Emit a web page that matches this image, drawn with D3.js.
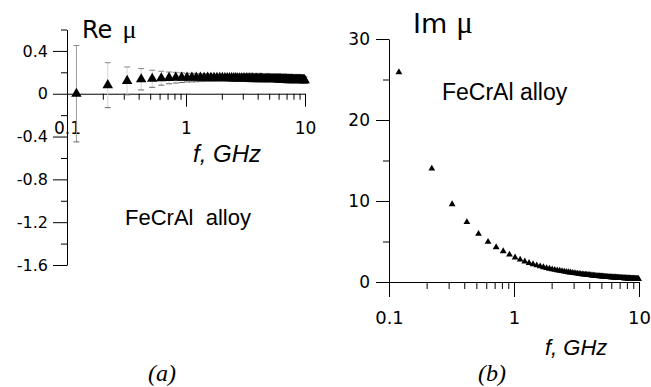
<!DOCTYPE html>
<html lang="en">
<head>
<meta charset="utf-8">
<title>FeCrAl alloy permeability</title>
<script src="https://d3js.org/d3.v7.min.js"></script>
<style>
    body { margin: 0; background: #fff; }
    .tick text { font-family: "DejaVu Sans", sans-serif; fill: #000; }
    .lbl { font-family: "Liberation Sans", Arial, sans-serif; fill: #000; }
    .sym { font-family: "Liberation Serif", "Times New Roman", serif; }
</style>
</head>
<body>
<div id="chart"></div>
<script>
// frequency points, GHz
const freqGHz = [
    0.12, 0.22, 0.32, 0.42, 0.52, 0.62, 0.72, 0.82, 0.92, 1.02,
    1.12, 1.22, 1.32, 1.42, 1.52, 1.62, 1.72, 1.82, 1.92, 2.02,
    2.12, 2.22, 2.32, 2.42, 2.52, 2.62, 2.72, 2.82, 2.92, 3.02,
    3.12, 3.22, 3.32, 3.42, 3.52, 3.62, 3.72, 3.82, 3.92, 4.02,
    4.12, 4.22, 4.32, 4.42, 4.52, 4.62, 4.72, 4.82, 4.92, 5.02,
    5.12, 5.22, 5.32, 5.42, 5.52, 5.62, 5.72, 5.82, 5.92, 6.02,
    6.12, 6.22, 6.32, 6.42, 6.52, 6.62, 6.72, 6.82, 6.92, 7.02,
    7.12, 7.22, 7.32, 7.42, 7.52, 7.62, 7.72, 7.82, 7.92, 8.02,
    8.12, 8.22, 8.32, 8.42, 8.52, 8.62, 8.72, 8.82, 8.92, 9.02,
    9.12, 9.22, 9.32, 9.42, 9.52, 9.62, 9.72, 9.82, 9.92
];

// Re mu and its error
const reMu = [
    0.00, 0.08, 0.12, 0.135, 0.14, 0.145, 0.148, 0.15, 0.15, 0.15,
    0.151, 0.15, 0.15, 0.149, 0.15, 0.149, 0.149, 0.148, 0.148, 0.148,
    0.147, 0.147, 0.147, 0.146, 0.146, 0.146, 0.145, 0.145, 0.145, 0.145,
    0.144, 0.144, 0.144, 0.143, 0.143, 0.143, 0.142, 0.142, 0.142, 0.142,
    0.141, 0.141, 0.141, 0.14, 0.14, 0.14, 0.14, 0.139, 0.139, 0.139,
    0.138, 0.138, 0.138, 0.138, 0.137, 0.137, 0.137, 0.137, 0.136, 0.136,
    0.136, 0.136, 0.135, 0.135, 0.135, 0.135, 0.134, 0.134, 0.134, 0.134,
    0.133, 0.133, 0.133, 0.133, 0.132, 0.132, 0.132, 0.132, 0.131, 0.131,
    0.131, 0.131, 0.131, 0.13, 0.13, 0.13, 0.13, 0.13, 0.129, 0.129,
    0.129, 0.129, 0.128, 0.128, 0.128, 0.128, 0.128, 0.127, 0.127
];
const reErr = [
    0.45, 0.21, 0.13, 0.10, 0.08, 0.065, 0.055, 0.05, 0.045, 0.04,
    0.04, 0.038, 0.036, 0.035, 0.034, 0.033, 0.032, 0.031, 0.03, 0.03,
    0.03, 0.03, 0.03, 0.03, 0.03, 0.03, 0.03, 0.03, 0.03, 0.03,
    0.03, 0.03, 0.03, 0.03, 0.03, 0.03, 0.03, 0.03, 0.03, 0.03,
    0.03, 0.03, 0.03, 0.03, 0.03, 0.03, 0.03, 0.03, 0.03, 0.03,
    0.03, 0.03, 0.03, 0.03, 0.03, 0.03, 0.03, 0.03, 0.03, 0.03,
    0.03, 0.03, 0.03, 0.03, 0.03, 0.03, 0.03, 0.03, 0.03, 0.03,
    0.03, 0.03, 0.03, 0.03, 0.03, 0.03, 0.03, 0.03, 0.03, 0.03,
    0.03, 0.03, 0.03, 0.03, 0.03, 0.03, 0.03, 0.03, 0.03, 0.03,
    0.03, 0.03, 0.03, 0.03, 0.03, 0.03, 0.03, 0.03, 0.03
];

// Im mu
const imMu = [
    25.9, 14.0, 9.6, 7.4, 5.95, 4.95, 4.3, 3.8, 3.38, 3.02,
    2.76, 2.54, 2.35, 2.19, 2.05, 1.93, 1.82, 1.72, 1.64, 1.56,
    1.50, 1.44, 1.39, 1.34, 1.29, 1.25, 1.21, 1.17, 1.13, 1.10,
    1.07, 1.04, 1.01, 0.98, 0.95, 0.93, 0.91, 0.89, 0.87, 0.85,
    0.83, 0.81, 0.79, 0.78, 0.76, 0.75, 0.73, 0.72, 0.70, 0.69,
    0.68, 0.67, 0.66, 0.64, 0.63, 0.62, 0.61, 0.60, 0.59, 0.59,
    0.58, 0.57, 0.56, 0.55, 0.55, 0.54, 0.53, 0.52, 0.52, 0.51,
    0.50, 0.50, 0.49, 0.48, 0.48, 0.47, 0.47, 0.46, 0.46, 0.45,
    0.45, 0.44, 0.44, 0.43, 0.43, 0.42, 0.42, 0.41, 0.41, 0.41,
    0.40, 0.40, 0.39, 0.39, 0.39, 0.38, 0.38, 0.38, 0.37
];

// tick values
const xMajor = [0.1, 1, 10];
const xMinor = [0.2, 0.3, 0.4, 0.5, 0.6, 0.7, 0.8, 0.9, 2, 3, 4, 5, 6, 7, 8, 9];
const reMajor = [-1.6, -1.2, -0.8, -0.4, 0, 0.4];
const reMinor = [-1.4, -1.0, -0.6, -0.2, 0.2, 0.6];
const imMajor = [0, 10, 20, 30];
const imMinor = [5, 15, 25];

const width = 651, height = 387;

const svg = d3.select("#chart").append("svg")
    .attr("width", width)
    .attr("height", height)
    .style("background", "#fff");

function axisStyle(g, fontSize) {
    g.attr("font-family", null).attr("font-size", fontSize);
    g.selectAll("line, path").attr("stroke", "#000").attr("stroke-width", 1);
}

// ---------- (a) Re mu ----------
const xL = d3.scaleLog().domain([0.1, 10]).range([67, 305]);
const yL = d3.scaleLinear().domain([-1.6, 0.6]).range([265, 29.5]);

const pa = svg.append("g");

pa.append("g")
    .attr("transform", `translate(${xL(0.1)},0)`)
    .call(d3.axisLeft(yL).tickValues(reMajor).tickSize(14).tickSizeOuter(0)
        .tickPadding(5).tickFormat(d => String(d)))
    .call(g => axisStyle(g, 16));
pa.append("g")
    .attr("transform", `translate(${xL(0.1)},0)`)
    .call(d3.axisLeft(yL).tickValues(reMinor).tickSize(6).tickFormat(""))
    .call(g => g.select(".domain").remove())
    .call(g => axisStyle(g, 16));

pa.append("g")
    .attr("transform", `translate(0,${yL(0)})`)
    .call(d3.axisBottom(xL).tickValues(xMajor).tickSize(13).tickSizeOuter(0)
        .tickPadding(15).tickFormat(d => String(d)))
    .call(g => axisStyle(g, 17));
pa.append("g")
    .attr("transform", `translate(0,${yL(0)})`)
    .call(d3.axisBottom(xL).tickValues(xMinor).tickSize(6).tickFormat(""))
    .call(g => g.select(".domain").remove())
    .call(g => axisStyle(g, 17));

const rePts = freqGHz.map((f, i) => ({f, v: reMu[i], e: reErr[i]}));

// error bars (bars faint, caps darker)
const eb = pa.append("g").attr("stroke-width", 1);
eb.selectAll("line.bar").data(rePts).join("line").attr("class", "bar")
    .attr("stroke", (d, i) => i === 0 ? "#9a9a9a" : "#d4d4d4")
    .attr("x1", d => xL(d.f)).attr("x2", d => xL(d.f))
    .attr("y1", d => yL(d.v + d.e)).attr("y2", d => yL(d.v - d.e));
eb.selectAll("line.capt").data(rePts).join("line").attr("class", "capt")
    .attr("stroke", "#888")
    .attr("x1", d => xL(d.f) - 3).attr("x2", d => xL(d.f) + 3)
    .attr("y1", d => yL(d.v + d.e)).attr("y2", d => yL(d.v + d.e));
eb.selectAll("line.capb").data(rePts).join("line").attr("class", "capb")
    .attr("stroke", "#666")
    .attr("x1", d => xL(d.f) - 3).attr("x2", d => xL(d.f) + 3)
    .attr("y1", d => yL(d.v - d.e)).attr("y2", d => yL(d.v - d.e));

const triBig = d3.symbol().type(d3.symbolTriangle).size(48);
pa.append("g").selectAll("path").data(rePts).join("path")
    .attr("d", triBig)
    .attr("fill", "#000")
    .attr("transform", d => `translate(${xL(d.f)},${yL(d.v)})`);

const ta = pa.append("text").attr("class", "lbl").attr("x", 82).attr("y", 38)
    .attr("font-size", 24);
ta.append("tspan").attr("font-family", "DejaVu Sans, sans-serif").text("Re");
ta.append("tspan").attr("class", "sym").attr("dx", 10).attr("font-size", 26).text("μ");

pa.append("text").attr("class", "lbl").attr("x", 193).attr("y", 162)
    .attr("font-size", 24).attr("font-style", "italic").text("f, GHz");
pa.append("text").attr("class", "lbl").attr("x", 125).attr("y", 225)
    .attr("font-size", 22).attr("xml:space", "preserve").text("FeCrAl  alloy");
pa.append("text").attr("class", "sym").attr("x", 162).attr("y", 381)
    .attr("text-anchor", "middle").attr("font-size", 24)
    .attr("font-style", "italic").text("(a)");

// ---------- (b) Im mu ----------
const xR = d3.scaleLog().domain([0.1, 10]).range([389, 639]);
const yR = d3.scaleLinear().domain([0, 30]).range([282, 39]);

const pb = svg.append("g");

pb.append("g")
    .attr("transform", `translate(${xR(0.1)},0)`)
    .call(d3.axisLeft(yR).tickValues(imMajor).tickSize(13).tickSizeOuter(0)
        .tickPadding(6).tickFormat(d => String(d)))
    .call(g => axisStyle(g, 17));
pb.append("g")
    .attr("transform", `translate(${xR(0.1)},0)`)
    .call(d3.axisLeft(yR).tickValues(imMinor).tickSize(6).tickFormat(""))
    .call(g => g.select(".domain").remove())
    .call(g => axisStyle(g, 17));

pb.append("g")
    .attr("transform", `translate(0,${yR(0)})`)
    .call(d3.axisBottom(xR).tickValues(xMajor).tickSize(15).tickSizeOuter(0)
        .tickPadding(14).tickFormat(d => String(d)))
    .call(g => axisStyle(g, 18));
pb.append("g")
    .attr("transform", `translate(0,${yR(0)})`)
    .call(d3.axisBottom(xR).tickValues(xMinor).tickSize(7).tickFormat(""))
    .call(g => g.select(".domain").remove())
    .call(g => axisStyle(g, 18));

const imPts = freqGHz.map((f, i) => ({f, v: imMu[i]}));
const triSmall = d3.symbol().type(d3.symbolTriangle).size(20);
pb.append("g").selectAll("path").data(imPts).join("path")
    .attr("d", triSmall)
    .attr("fill", "#000")
    .attr("transform", d => `translate(${xR(d.f)},${yR(d.v)})`);

const tb = pb.append("text").attr("class", "lbl").attr("x", 413).attr("y", 33)
    .attr("font-size", 27);
tb.append("tspan").attr("font-family", "DejaVu Sans, sans-serif").text("Im");
tb.append("tspan").attr("class", "sym").attr("dx", 9).attr("font-size", 31).text("μ");

pb.append("text").attr("class", "lbl").attr("x", 442).attr("y", 100)
    .attr("font-size", 23).text("FeCrAl alloy");
pb.append("text").attr("class", "lbl").attr("x", 545).attr("y", 355)
    .attr("font-size", 22).attr("font-style", "italic").text("f, GHz");
pb.append("text").attr("class", "sym").attr("x", 492).attr("y", 381)
    .attr("text-anchor", "middle").attr("font-size", 24)
    .attr("font-style", "italic").text("(b)");
</script>
</body>
</html>
